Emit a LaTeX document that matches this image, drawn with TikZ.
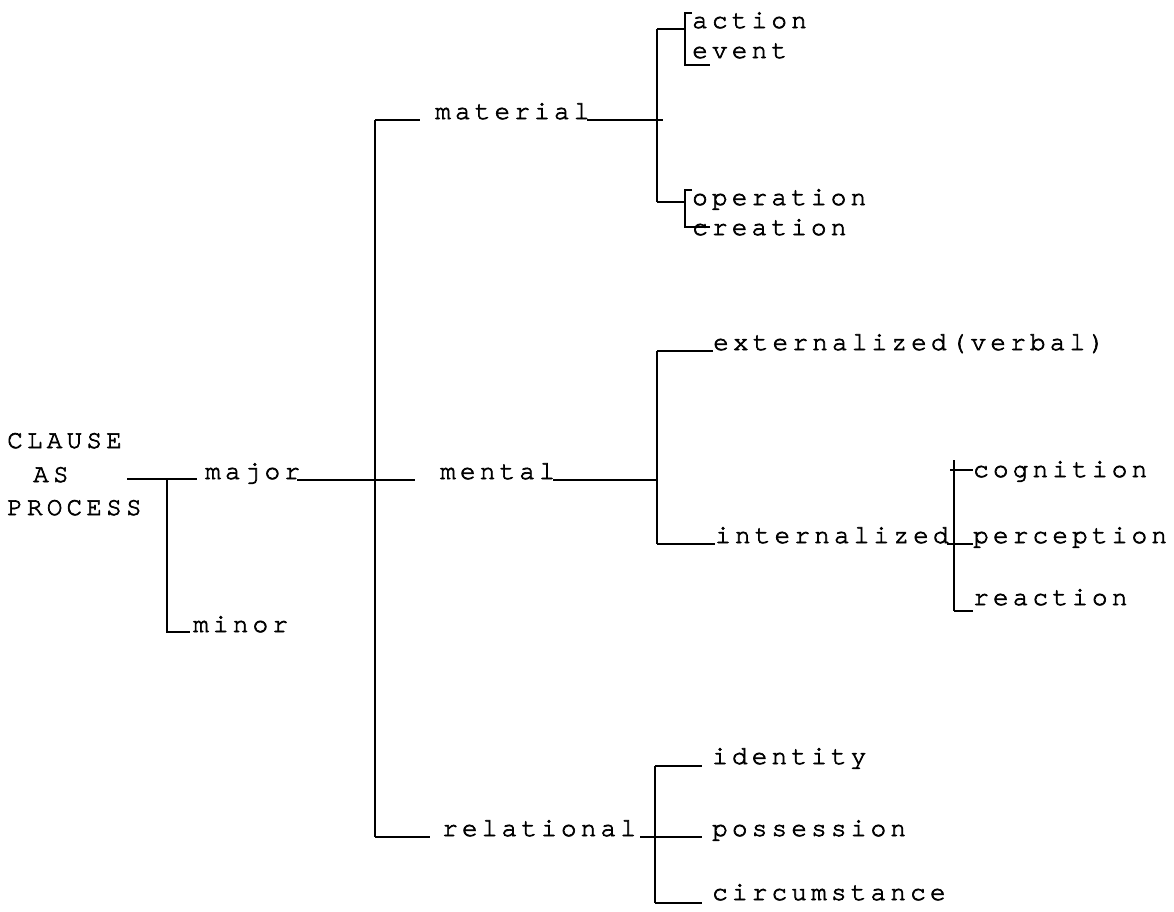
\documentclass[tikz,border=0pt]{standalone}
\usepackage{fontspec}
\newfontfamily\cur[FakeBold=2.5]{TeX Gyre Cursor}
\makeatletter
\newcommand\ls[1]{\@tfor\@lsc:=#1\do{\@lsc\kern4.2pt}\kern-4.2pt}
\makeatother
\newcommand\tw{\fontsize{26}{30}\selectfont\cur}
\begin{document}
\begin{tikzpicture}[x=1pt,y=-1pt,
  lbl/.style={anchor=base west, inner sep=0pt, font=\tw},
  net/.style={line width=1.4pt}]
\useasboundingbox[fill=white] (0,0) rectangle (1174,911);
% texts
\node[lbl] (clause) at (7,448) {\ls{CLAUSE}};
\node[lbl] (as) at (33,482) {\ls{AS}};
\node[lbl] (process) at (7,515) {\ls{PROCESS}};
\node[lbl] (major) at (205,479) {\ls{major}};
\node[lbl] (minor) at (193,632) {\ls{minor}};
\node[lbl] (material) at (435,119) {\ls{material}};
\node[lbl] (mental) at (440,479) {\ls{mental}};
\node[lbl] (relational) at (442,836) {\ls{relational}};
\node[lbl] (action) at (692,28) {\ls{action}};
\node[lbl] (event) at (692,58) {\ls{event}};
\node[lbl] (operation) at (692,205) {\ls{operation}};
\node[lbl] (creation) at (692,235) {\ls{creation}};
\node[lbl] (ext) at (713,350) {\ls{externalized(verbal)}};
\node[lbl] (int) at (715,543) {\ls{internalized}};
\node[lbl] (cog) at (973,477) {\ls{cognition}};
\node[lbl] (per) at (973,543) {\ls{perception}};
\node[lbl] (rea) at (973,605) {\ls{reaction}};
\node[lbl] (ide) at (712,764) {\ls{identity}};
\node[lbl] (pos) at (712,836) {\ls{possession}};
\node[lbl] (cir) at (712,900) {\ls{circumstance}};
% junction coordinates
\coordinate (c0) at (127,479);
\coordinate (j1) at (167,479);
\coordinate (j1b) at (167,632);
\coordinate (mj) at (375,480);
\coordinate (mt) at (375,120);
\coordinate (mb) at (375,837);
\coordinate (jm) at (657,120);
\coordinate (jmt) at (657,29);
\coordinate (jmb) at (657,202);
\coordinate (jn) at (657,480);
\coordinate (jnt) at (657,351);
\coordinate (jnb) at (657,544);
\coordinate (ji) at (954,544);
\coordinate (jit) at (954,460);
\coordinate (jib) at (954,611);
\coordinate (jr) at (655,837);
\coordinate (jrt) at (655,766);
\coordinate (jrb) at (655,903);
% clause -> major / minor
\draw[net] (c0) -- (197,479);
\draw[net] (j1) -- (j1b) -- (190,632);
% major -> process types
\draw[net] (297,480) -- (415,480);
\draw[net] (mt) -- (mb);
\draw[net] (mt) -- (420,120);
\draw[net] (mb) -- (430,837);
% material
\draw[net] (587,120) -- (663,120);
\draw[net] (jmt) -- (jmb);
\draw[net] (jmt) -- (685,29);
\draw[net] (jmb) -- (685,202);
\draw[net] (692,13) -- (685,13) -- (685,65) -- (710,65);
\draw[net] (692,190) -- (685,190) -- (685,227) -- (710,227);
% mental
\draw[net] (553,480) -- (jn);
\draw[net] (jnt) -- (jnb);
\draw[net] (jnt) -- (713,351);
\draw[net] (jnb) -- (715,544);
\draw[net] (jit) -- (jib);
\draw[net] (947,544) -- (973,544);
\draw[net] (950,470) -- (973,470);
\draw[net] (jib) -- (973,611);
% relational
\draw[net] (640,837) -- (702,837);
\draw[net] (jrt) -- (jrb);
\draw[net] (jrt) -- (702,766);
\draw[net] (jrb) -- (702,903);
\end{tikzpicture}
\end{document}
